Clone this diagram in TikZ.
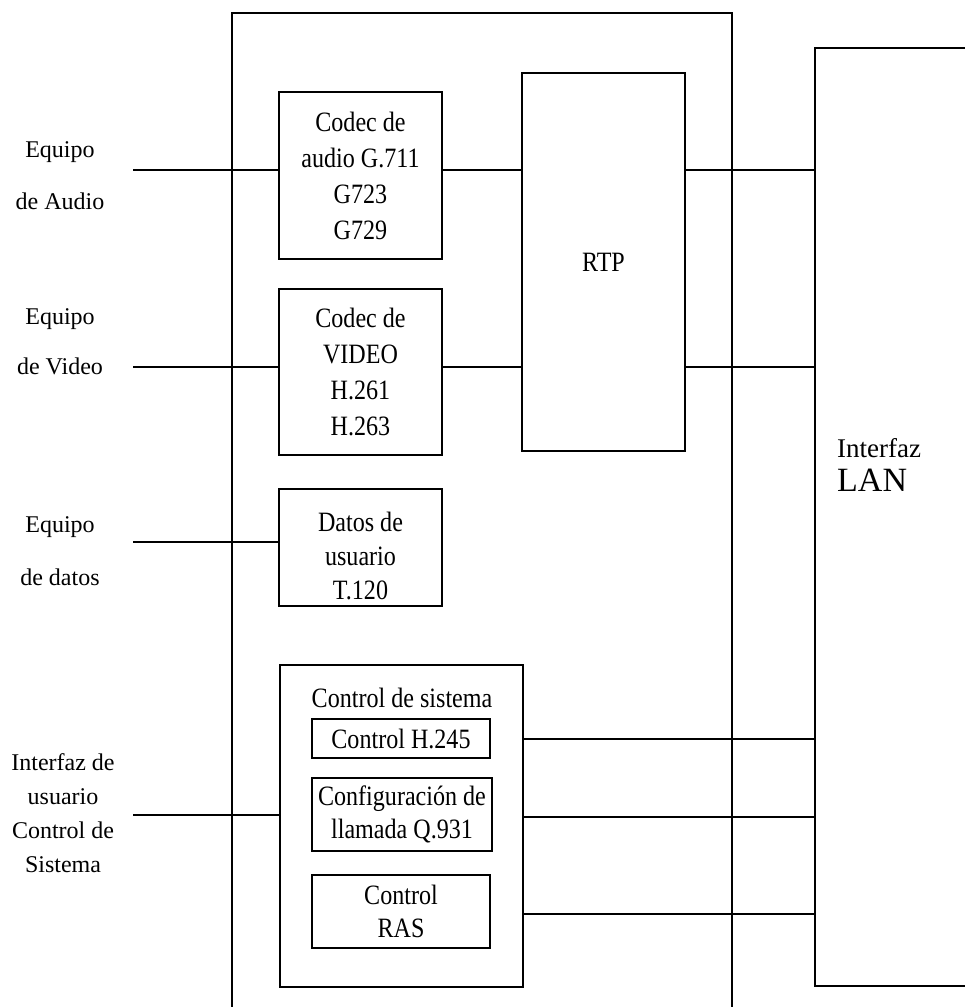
\documentclass[tikz,border=0pt]{standalone}
\usepackage{fontspec}
\usetikzlibrary{calc}
\setmainfont{Liberation Serif}
\newfontfamily\bxfont{Liberation Serif}[FakeStretch=0.86]
\begin{document}
\begin{tikzpicture}[x=1pt,y=-1pt,
  blk/.style={draw, line width=2.2pt, inner sep=0pt, align=center,
     font=\bxfont\fontsize{28}{36}\selectfont},
  sub/.style={blk, line width=2.6pt, font=\bxfont\fontsize{28}{33}\selectfont},
  frame/.style={draw, line width=2pt, inner sep=0pt},
  wire/.style={line width=1.8pt},
  lbl/.style={align=center, inner sep=0pt, font=\fontsize{24}{52}\selectfont}]
\useasboundingbox (0,0) rectangle (965,1007);
\clip (0,0) rectangle (965,1007);
\fill[white] (0,0) rectangle (965,1007);

% outer frames
\node[frame, minimum width=500pt, minimum height=1027pt] (outer) at (482,526.5) {};
\node[frame, minimum width=200pt, minimum height=938pt] (lan) at (915,517) {};
\node[anchor=west, align=left, inner sep=0pt, font=\fontsize{27}{34}\selectfont] (lantext) at (837,465)
  {Interfaz\\{\fontsize{34}{34}\selectfont LAN}};

% blocks
\node[blk, minimum width=163pt, minimum height=167pt] (acodec) at (360.5,175.5)
  {Codec de\\audio G.711\\G723\\G729};
\node[blk, minimum width=163pt, minimum height=378pt] (rtp) at (603.5,262) {RTP};
\node[blk, minimum width=163pt, minimum height=166pt] (vcodec) at (360.5,372)
  {Codec de\\VIDEO\\H.261\\H.263};
\node[blk, minimum width=163pt, minimum height=117pt] (datos) at (360.5,547.5) {};
\node[align=center, inner sep=0pt, font=\bxfont\fontsize{28}{34}\selectfont] (datostext) at (360.5,556)
  {Datos de\\usuario\\T.120};
\node[blk, minimum width=243pt, minimum height=322pt] (ctrl) at (401.5,826) {};
\node[inner sep=0pt, font=\bxfont\fontsize{28}{36}\selectfont] (ctitle) at (402,698) {Control de sistema};
\node[sub, minimum width=178pt, minimum height=39pt] (h245) at (401,738.5) {Control H.245};
\node[sub, minimum width=180pt, minimum height=73pt] (q931) at (402,814.5)
  {Configuración de\\llamada Q.931};
\node[sub, minimum width=178pt, minimum height=73pt] (ras) at (401,911.5) {Control\\RAS};

% left labels
\node[lbl] (la) at (60,176) {Equipo\\de Audio};
\node[lbl, font=\fontsize{24}{50}\selectfont] (lv) at (60,342) {Equipo\\de Video};
\node[lbl, font=\fontsize{24}{53}\selectfont] (ld) at (60,551.5) {Equipo\\de datos};
\node[lbl, font=\fontsize{24}{34}\selectfont] (lu) at (63,813)
  {Interfaz de\\usuario\\Control de\\Sistema};

% input points
\coordinate (ia) at (133,170);
\coordinate (iv) at (133,367);
\coordinate (id) at (133,542);
\coordinate (iu) at (133,815);
\coordinate (oh) at (523,739);
\coordinate (oq) at (523,817);
\coordinate (or) at (523,914);

% connectors
\draw[wire] (ia) -- (ia -| acodec.west);
\draw[wire] (ia -| acodec.east) -- (ia -| rtp.west);
\draw[wire] (ia -| rtp.east) -- (ia -| lan.west);
\draw[wire] (iv) -- (iv -| vcodec.west);
\draw[wire] (iv -| vcodec.east) -- (iv -| rtp.west);
\draw[wire] (iv -| rtp.east) -- (iv -| lan.west);
\draw[wire] (id) -- (id -| datos.west);
\draw[wire] (iu) -- (iu -| ctrl.west);
\draw[wire] (oh -| ctrl.east) -- (oh -| lan.west);
\draw[wire] (oq -| ctrl.east) -- (oq -| lan.west);
\draw[wire] (or -| ctrl.east) -- (or -| lan.west);
\end{tikzpicture}
\end{document}
